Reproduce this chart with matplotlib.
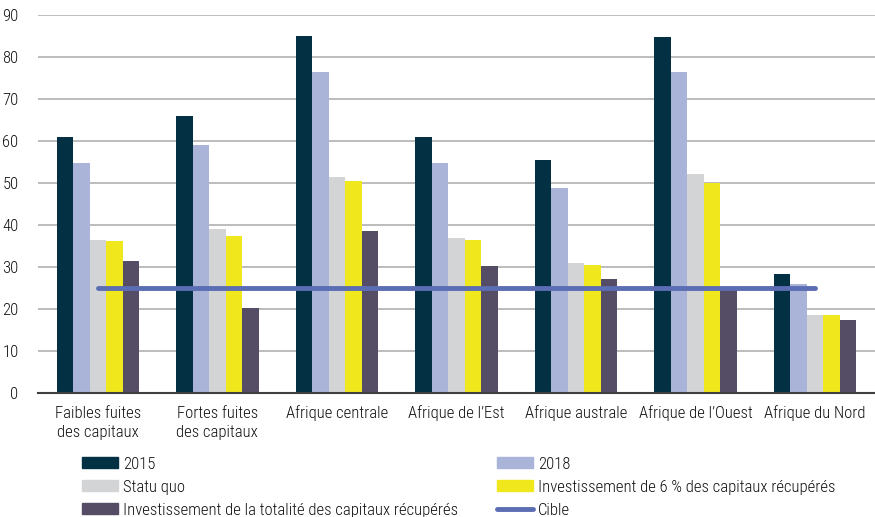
import numpy as np
import matplotlib.pyplot as plt
from matplotlib.patches import Patch
from matplotlib.lines import Line2D

plt.rcParams['font.family'] = ['Roboto Condensed', 'DejaVu Sans']
plt.rcParams['font.weight'] = 'light'
plt.rcParams['text.color'] = '#111111'

categories = ['Faibles fuites\ndes capitaux', 'Fortes fuites\ndes capitaux', 'Afrique centrale',
              "Afrique de l\u2019Est", 'Afrique australe', "Afrique de l\u2019Ouest", 'Afrique du Nord']
series_names = ['2015', '2018', 'Statu quo',
                'Investissement de 6 % des capitaux récupérés',
                'Investissement de la totalité des capitaux récupérés']
v2015 = [61.0, 66.0, 85.0, 61.0, 55.6, 84.7, 28.4]
v2018 = [54.8, 59.0, 76.5, 54.8, 48.9, 76.4, 25.9]
statu_quo = [36.4, 39.0, 51.5, 37.0, 30.9, 52.1, 18.6]
invest_6 = [36.2, 37.5, 50.5, 36.5, 30.6, 49.9, 18.6]
invest_all = [31.5, 20.2, 38.7, 30.2, 27.1, 24.8, 17.5]
cible = 25
colors = ['#033042', '#aab3d8', '#d3d4d6', '#f0e81c', '#554d66']
cible_color = '#5b6db3'

fig = plt.figure(figsize=(8.75, 5.17), dpi=100)
ax = fig.add_axes([0.0434, 0.2398, 0.9566, 0.731])

x = np.arange(len(categories))
w = 0.138
all_series = [v2015, v2018, statu_quo, invest_6, invest_all]
for i, (vals, c) in enumerate(zip(all_series, colors)):
    ax.bar(x + (i - 2) * w, vals, w, color=c, zorder=2)

ax.plot([x[0], x[-1]], [cible, cible], color=cible_color, lw=3.5,
        solid_capstyle='round', zorder=3)

ax.set_xlim(-0.5, 6.5)
ax.set_ylim(0, 90)
ax.set_yticks(range(0, 91, 10))
ax.yaxis.grid(True, color='#b0b0b0', lw=1.2, zorder=0)
ax.set_axisbelow(True)
for s in ['top', 'right', 'left']:
    ax.spines[s].set_visible(False)
ax.spines['bottom'].set_color('#404040')
ax.spines['bottom'].set_linewidth(1.5)
ax.tick_params(axis='both', length=0, labelsize=12, colors='#111111')
ax.tick_params(axis='y', pad=14)
ax.tick_params(axis='x', pad=9)
ax.set_xticks(x)
ax.set_xticklabels(categories, linespacing=1.35)

handles = [Patch(color=colors[0]), Patch(color=colors[2]), Patch(color=colors[4]),
           Patch(color=colors[1]), Patch(color=colors[3]),
           Line2D([0], [0], color=cible_color, lw=3.5, solid_capstyle='round')]
labels = [series_names[0], series_names[2], series_names[4],
          series_names[1], series_names[3], 'Cible']
fig.legend(handles, labels, ncol=2, loc='upper left', bbox_to_anchor=(0.094, 0.117),
           frameon=False, fontsize=12, handlelength=2.15, handleheight=0.6,
           handletextpad=0.3, columnspacing=2.35, labelspacing=0.48,
           borderaxespad=0, borderpad=0)

fig.savefig('out.png', dpi=100)
